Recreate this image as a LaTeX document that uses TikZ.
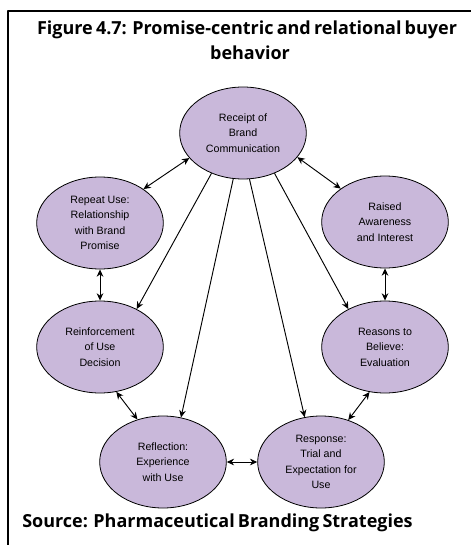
\documentclass[tikz,border=0pt]{standalone}
\usepackage{fontspec}
\usetikzlibrary{shapes.geometric,arrows.meta}
\newfontfamily\boxfont{Liberation Sans}
\newfontfamily\headfont{Open Sans}
\definecolor{lila}{RGB}{201,184,218}
\begin{document}
\begin{tikzpicture}[x=0.75pt, y=-0.75pt, line join=round, >={Stealth[length=5.5pt,width=5pt]},
	bub/.style={ellipse, draw, fill=lila, line width=0.6pt, minimum width=95pt, minimum height=69pt,
		inner sep=0pt, align=center, font=\boxfont\fontsize{8}{11.6}\selectfont},
	head/.style={font=\headfont\bfseries\fontsize{13.5}{17}\selectfont},
	lnk/.style={line width=0.7pt}]
	\useasboundingbox (0,0) rectangle (471,545);
	\draw[line width=1.5pt] (8,545)--(8,11)--(471,11); % khung
	\node[head] (tit) at (247,30)
		{\makebox[315pt][s]{Figure 4.7: Promise-centric and relational buyer}};
	\node[head] (tit2) at (250,53) {behavior};
	\node[head, anchor=west, inner sep=0pt] (src) at (22,523)
		{\makebox[289.5pt][s]{Source: Pharmaceutical Branding Strategies}};
	% cac o
	\node[bub] (rec) at (243,133) {Receipt of\\Brand\\Communication};
	\node[bub] (rep) at (100,223) {Repeat Use:\\Relationship\\with Brand\\Promise};
	\node[bub] (rai) at (385,222) {Raised\\Awareness\\and Interest};
	\node[bub] (rei) at (100,347) {Reinforcement\\of Use\\Decision};
	\node[bub] (rea) at (385,347) {Reasons to\\Believe:\\Evaluation};
	\node[bub] (ref) at (163,462) {Reflection:\\Experience\\with Use};
	\node[bub] (res) at (321,462) {Response:\\Trial and\\Expectation for\\Use};
	% mui ten
	\draw[lnk,<->] (rec.205)--(rep.38);
	\draw[lnk,<->] (rec.336)--(rai.143);
	\draw[lnk,<->] (rep.south)--(rei.north);
	\draw[lnk,<->] (rai.south)--(rea.north);
	\draw[lnk,->] (rec.232)--(rei.46);
	\draw[lnk,->] (rec.258)--(ref.68);
	\draw[lnk,->] (rec.278)--(res.110);
	\draw[lnk,->] (rec.308)--(rea.134);
	\draw[lnk,<->] (rei.290)--(ref.121);
	\draw[lnk,<->] (rea.251)--(res.57);
	\draw[lnk,<->] (ref.east)--(res.west);
\end{tikzpicture}
\end{document}
